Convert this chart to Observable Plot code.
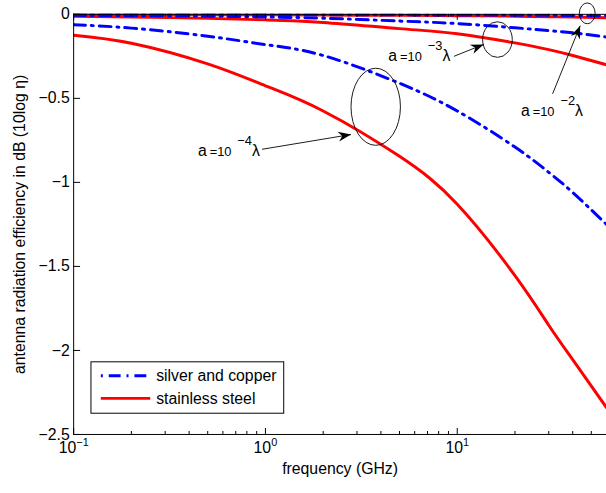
<!DOCTYPE html>
<html>
<head>
<meta charset="utf-8">
<script src="https://cdn.jsdelivr.net/npm/d3@7"></script>
<script src="https://cdn.jsdelivr.net/npm/@observablehq/plot@0.6"></script>
<style>
  html, body { margin: 0; padding: 0; overflow: hidden; background: #fff; }
  #chart svg { display: block; }
</style>
</head>
<body>
<div id="chart"></div>
<script>
// Frequency samples (GHz)
const freq = [0.1, 0.2, 0.5, 1, 2, 5, 10, 20, 30, 40, 60];

// Radiation efficiency in dB, by conductor and wire radius a (in wavelengths)
const silverA4 = [-0.062, -0.082, -0.13, -0.18, -0.245, -0.41, -0.575, -0.79, -0.94, -1.06, -1.25];
const steelA4  = [-0.124, -0.172, -0.295, -0.425, -0.575, -0.845, -1.13, -1.555, -1.85, -2.055, -2.34];
const silverA3 = [-0.006, -0.008, -0.011, -0.016, -0.023, -0.04, -0.055, -0.08, -0.097, -0.11, -0.135];
const steelA3  = [-0.012, -0.016, -0.024, -0.033, -0.048, -0.085, -0.115, -0.17, -0.21, -0.245, -0.30];
const silverA2 = [-0.0005, -0.0007, -0.001, -0.0015, -0.002, -0.003, -0.004, -0.005, -0.006, -0.007, -0.009];
const steelA2  = [-0.001, -0.0013, -0.002, -0.003, -0.004, -0.006, -0.008, -0.011, -0.014, -0.016, -0.02];

const materials = ["silver and copper", "stainless steel"];

// Axis ticks
const yTicks = [0, -0.5, -1, -1.5, -2, -2.5];
const xTickExps = [-1, 0, 1];
const xMinorTicks = [0.2, 0.3, 0.4, 0.5, 0.6, 0.7, 0.8, 0.9, 2, 3, 4, 5, 6, 7, 8, 9, 20, 30, 40, 50, 60];

// Wire-radius annotations: exponent of a = 10^n λ, ellipse centre, label anchor, arrow tail and tip
const annExp = [-4, -3, -2];
const annCenter = [[3.78, -0.553], [16.3, -0.153], [47.9, 0.003]];
const annLabel = [[0.447, -0.847], [4.4, -0.282], [21.6, -0.606]];
const annTail = [[0.965, -0.806], [9.66, -0.253], [31.6, -0.476]];
const annTip = [[2.81, -0.718], [13.8, -0.182], [44.0, -0.071]];

const xLabel = "frequency (GHz)";
const yLabel = "antenna radiation efficiency in dB (10log η)";

// Long-form table
const seriesDefs = [
  {material: materials[0], a: -4, values: silverA4},
  {material: materials[1], a: -4, values: steelA4},
  {material: materials[0], a: -3, values: silverA3},
  {material: materials[1], a: -3, values: steelA3},
  {material: materials[0], a: -2, values: silverA2},
  {material: materials[1], a: -2, values: steelA2}
];
const rows = seriesDefs.flatMap(s =>
  s.values.map((v, i) => ({f: freq[i], eff: v, material: s.material, key: s.material + s.a}))
);

const FONT = "'Liberation Sans', Arial, Helvetica, sans-serif";
const RED = "#ff0000", BLUE = "#0000ff";
const DASH = "12,6,2,6";
const ellipseR = [[25, 39], [15, 18], [8, 10.5]];

const W = 613, H = 493, ML = 74, MR = 0, MT = 14, MB = 54;
const innerW = W - ML - MR, innerH = H - MT - MB;

const supLabel = e => (e < 0 ? "\u2212" + (-e) : String(e));

// x tick labels as "10" with a raised exponent, centred on the tick
const xLabelMarks = xTickExps.flatMap(e => {
  const sup = supLabel(e);
  const supW = sup.length * 6.2;
  const baseW = 17.8;
  const startBase = -(baseW + supW) / 2;
  return [
    Plot.text([10 ** e], {x: d => d, frameAnchor: "bottom", text: () => "10",
      textAnchor: "start", dx: startBase, dy: 19, fontSize: 16}),
    Plot.text([10 ** e], {x: d => d, frameAnchor: "bottom", text: () => sup,
      textAnchor: "start", dx: startBase + baseW, dy: 11.5, fontSize: 11})
  ];
});

function arrowHead(sx, sy, tx, ty) {
  const dx = tx - sx, dy = ty - sy, len = Math.hypot(dx, dy);
  const ux = dx / len, uy = dy / len, nx = -uy, ny = ux;
  const L = 13, w = 5, notch = 4;
  const pts = [
    [tx, ty],
    [tx - L * ux + w * nx, ty - L * uy + w * ny],
    [tx - (L - notch) * ux, ty - (L - notch) * uy],
    [tx - L * ux - w * nx, ty - L * uy - w * ny]
  ];
  return pts.map(p => p.join(",")).join(" ");
}

// Ellipses, arrows and "a = 10^n λ" labels
function annotations(index, scales) {
  const x = scales.x, y = scales.y;
  const g = d3.create("svg:g").attr("font-family", FONT).attr("text-anchor", "start");
  annExp.forEach((n, i) => {
    const [cf, cv] = annCenter[i];
    g.append("ellipse")
      .attr("cx", x(cf)).attr("cy", y(cv))
      .attr("rx", ellipseR[i][0]).attr("ry", ellipseR[i][1])
      .attr("fill", "none").attr("stroke", "#000").attr("stroke-width", 0.9);
    const sx = x(annTail[i][0]), sy = y(annTail[i][1]);
    const tx = x(annTip[i][0]), ty = y(annTip[i][1]);
    g.append("line")
      .attr("x1", sx).attr("y1", sy).attr("x2", tx).attr("y2", ty)
      .attr("stroke", "#000").attr("stroke-width", 0.9);
    g.append("polygon").attr("points", arrowHead(sx, sy, tx, ty)).attr("fill", "#000");
    const t = g.append("text")
      .attr("x", x(annLabel[i][0])).attr("y", y(annLabel[i][1]))
      .attr("font-size", 16).attr("fill", "#000");
    t.append("tspan").text("a");
    t.append("tspan").attr("dx", 3).attr("font-size", 13).text("=10");
    t.append("tspan").attr("dx", 6).attr("dy", -11).attr("font-size", 13).text(supLabel(n));
    t.append("tspan").attr("dx", 0).attr("dy", 11).attr("font-size", 16).text("\u03bb");
  });
  return g.node();
}

// Legend box in the lower-left corner of the frame
function legend(index, scales, values, dims) {
  const bx = dims.marginLeft + 18;
  const by = dims.height - dims.marginBottom - 21 - 52;
  const g = d3.create("svg:g").attr("font-family", FONT).attr("text-anchor", "start");
  g.append("rect").attr("x", bx).attr("y", by).attr("width", 195).attr("height", 52)
    .attr("fill", "#fff").attr("stroke", "#000").attr("stroke-width", 1);
  const styles = [
    {stroke: BLUE, dash: "2,6,12,6"},
    {stroke: RED, dash: null}
  ];
  materials.forEach((m, i) => {
    const yy = by + 14 + i * 23;
    const ln = g.append("line").attr("x1", bx + 10).attr("x2", bx + 60)
      .attr("y1", yy).attr("y2", yy)
      .attr("stroke", styles[i].stroke).attr("stroke-width", 3);
    if (styles[i].dash) ln.attr("stroke-dasharray", styles[i].dash);
    g.append("text").attr("x", bx + 66).attr("y", yy).attr("dy", "0.35em")
      .attr("font-size", 16).attr("fill", "#000").text(m);
  });
  return g.node();
}

const chart = Plot.plot({
  width: W,
  height: H,
  marginLeft: ML,
  marginRight: MR,
  marginTop: MT,
  marginBottom: MB,
  style: {fontFamily: FONT, fontSize: "16px", color: "#000", background: "#fff"},
  x: {type: "log", domain: [0.1, 60], axis: null},
  y: {domain: [-2.5, 0]},
  marks: [
    // curves
    Plot.line(rows.filter(d => d.material === materials[1]), {
      x: "f", y: "eff", z: "key", stroke: RED, strokeWidth: 3,
      curve: "natural", clip: true
    }),
    Plot.line(rows.filter(d => d.material === materials[0]), {
      x: "f", y: "eff", z: "key", stroke: BLUE, strokeWidth: 3,
      strokeDasharray: DASH, curve: "natural", clip: true
    }),
    // box lines
    Plot.ruleY([0], {stroke: "#000", strokeWidth: 1}),
    Plot.ruleY([-2.5], {stroke: "#000", strokeWidth: 1}),
    Plot.ruleX([0.1], {stroke: "#000", strokeWidth: 1}),
    // inward ticks
    Plot.tickX(xTickExps.map(e => 10 ** e), {x: d => d, insetTop: innerH - 6, stroke: "#000"}),
    Plot.tickX(xTickExps.map(e => 10 ** e), {x: d => d, insetBottom: innerH - 6, stroke: "#000"}),
    Plot.tickX(xMinorTicks, {x: d => d, insetTop: innerH - 3, stroke: "#000"}),
    Plot.tickX(xMinorTicks, {x: d => d, insetBottom: innerH - 3, stroke: "#000"}),
    Plot.tickY(yTicks, {y: d => d, insetRight: innerW - 7, stroke: "#000"}),
    // axes labels
    Plot.axisY({ticks: yTicks, tickSize: 0, tickPadding: 4, label: null, fontSize: 16,
      tickFormat: d => (d === 0 ? "0" : "\u2212" + Math.abs(d))}),
    ...xLabelMarks,
    Plot.text([xLabel], {text: d => d, frameAnchor: "bottom", dy: 40, fontSize: 16}),
    Plot.text([yLabel], {text: d => d, frameAnchor: "left", textAnchor: "middle",
      rotate: -90, dx: -54, fontSize: 16}),
    annotations,
    legend
  ]
});

document.getElementById("chart").append(chart);
</script>
</body>
</html>
